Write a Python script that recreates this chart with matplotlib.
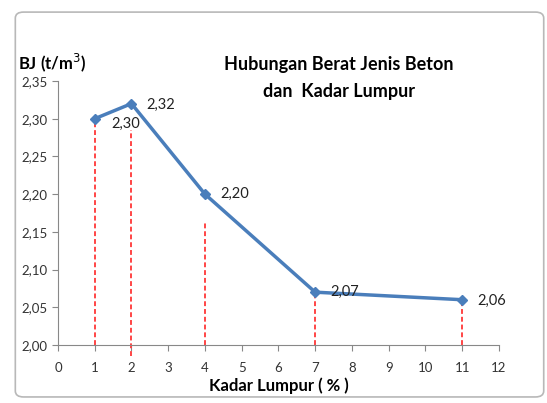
import matplotlib.pyplot as plt
from matplotlib.patches import FancyBboxPatch

# data
kadar_lumpur = [1, 2, 4, 7, 11]
berat_jenis = [2.30, 2.32, 2.20, 2.07, 2.06]
labels = ['2,30', '2,32', '2,20', '2,07', '2,06']
guide_top = [2.30, 2.285, 2.165, 2.07, 2.06]
guide_bottom = [2.00, 1.985, 2.00, 2.00, 2.00]
x_ticks = list(range(0, 13))
y_ticks = [2.00, 2.05, 2.10, 2.15, 2.20, 2.25, 2.30, 2.35]

plt.rcParams['font.family'] = ['Lato', 'DejaVu Sans']

fig = plt.figure(figsize=(5.47, 4.03), dpi=100)

# rounded chart frame, behind the axes
frame = FancyBboxPatch((0.028, 0.015), 0.966, 0.955, boxstyle='round,pad=0,rounding_size=0.015',
                       transform=fig.transFigure, facecolor='white', edgecolor='#b8b8b8',
                       linewidth=1.2, zorder=-1)
fig.patches.append(frame)

ax = fig.add_axes([0.106, 0.144, 0.806, 0.655])
ax.set_facecolor('none')
ax.set_zorder(1)

ax.vlines(kadar_lumpur, guide_bottom, guide_top, colors='#ff4545', linestyles=(0, (2.5, 1.5)),
          linewidth=1.4, clip_on=False, zorder=2)

ax.plot(kadar_lumpur, berat_jenis, color='#4a7ebb', linewidth=2.5, marker='D', markersize=5,
        zorder=3)

offsets = [(12, -4), (11, -1), (11, 0), (11, 0), (11, -1)]
for x, y, t, (dx, dy) in zip(kadar_lumpur, berat_jenis, labels, offsets):
    ax.annotate(t, (x, y), xytext=(dx, dy), textcoords='offset points', fontsize=10.5,
                va='center', ha='left', color='#222222')

ax.set_xlim(0, 12)
ax.set_ylim(2.00, 2.35)
ax.set_xticks(x_ticks)
ax.set_yticks(y_ticks)
ax.set_yticklabels([f'{v:.2f}'.replace('.', ',') for v in y_ticks])
ax.tick_params(labelsize=9.5, direction='out', length=4, color='#888888', labelcolor='#333333')
ax.tick_params(axis='x', pad=8)
for s in ['top', 'right']:
    ax.spines[s].set_visible(False)
for s in ['left', 'bottom']:
    ax.spines[s].set_color('#888888')

ax.set_xlabel('Kadar Lumpur ( % )', fontsize=12, fontweight='bold', labelpad=3)
fig.text(0.033, 0.845, 'BJ (t/m$^3$)', fontsize=12, fontweight='bold', ha='left', va='center')
fig.text(0.62, 0.806, 'Hubungan Berat Jenis Beton\ndan  Kadar Lumpur', fontsize=13,
         fontweight='bold', ha='center', va='center', linespacing=1.75)

fig.savefig('out.png', dpi=100)
